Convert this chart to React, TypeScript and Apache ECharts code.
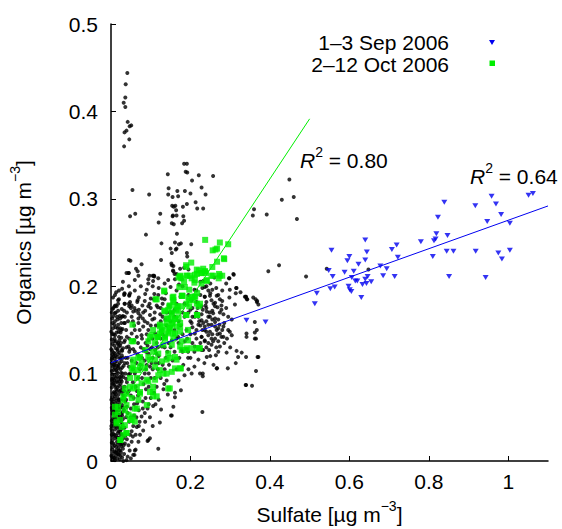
import React, { useEffect, useRef } from "react";
import * as echarts from "echarts";

// ---- data (sulfate, organics) in µg m^-3 ----
const allPoints: number[][] = [
  // high cluster near x≈0.04
  [0.041,0.444],[0.037,0.431],[0.036,0.416],[0.032,0.410],[0.036,0.405],[0.042,0.388],[0.051,0.384],[0.047,0.383],[0.039,0.378],[0.034,0.376],[0.046,0.368],[0.033,0.360],
  // upper cluster
  [0.054,0.310],[0.096,0.305],[0.143,0.328],[0.184,0.340],[0.191,0.340],[0.192,0.330],[0.188,0.331],[0.221,0.327],[0.257,0.326],[0.204,0.321],[0.145,0.312],[0.228,0.313],[0.167,0.309],[0.186,0.309],[0.200,0.306],[0.144,0.305],[0.155,0.302],[0.169,0.303],[0.238,0.305],[0.191,0.294],[0.213,0.296],[0.154,0.292],[0.162,0.292],[0.158,0.291],[0.181,0.291],[0.217,0.289],[0.232,0.289],[0.164,0.287],[0.124,0.283],[0.048,0.280],[0.061,0.283],[0.156,0.281],[0.165,0.281],[0.155,0.280],[0.182,0.280],[0.184,0.275],[0.153,0.272],[0.158,0.271],[0.179,0.272],[0.120,0.273],[0.088,0.259],[0.166,0.260],[0.127,0.249],[0.171,0.248],[0.176,0.249],[0.161,0.250],[0.202,0.248],[0.165,0.243],[0.150,0.243],[0.163,0.242],[0.153,0.238],[0.191,0.238],[0.192,0.234],[0.126,0.230],[0.045,0.230],[0.049,0.229],[0.077,0.225],[0.063,0.220],[0.152,0.226],[0.153,0.224],[0.156,0.218],[0.160,0.214],[0.174,0.220],[0.184,0.221],[0.157,0.217],[0.045,0.215],[0.097,0.212],[0.109,0.211],[0.094,0.208],[0.106,0.206],[0.060,0.207],[0.171,0.202],[0.232,0.206],[0.161,0.208],[0.178,0.208],[0.298,0.209],[0.309,0.213],[0.108,0.212],
  // scattered right
  [0.449,0.322],[0.460,0.302],[0.430,0.299],[0.360,0.288],[0.357,0.281],[0.392,0.282],[0.468,0.277],[0.423,0.224],[0.543,0.220],[0.491,0.211],[0.648,0.219],[0.396,0.217],[0.315,0.198],[0.314,0.192],[0.339,0.188],[0.342,0.185],[0.364,0.185],[0.371,0.179],
  [0.308,0.214],[0.297,0.209],[0.236,0.199],[0.255,0.196],[0.245,0.195],[0.299,0.196],[0.316,0.198],[0.326,0.193],[0.298,0.187],[0.337,0.188],[0.343,0.185],[0.358,0.187],[0.368,0.183],[0.312,0.179],[0.236,0.188],[0.249,0.189],[0.266,0.189],[0.262,0.181],[0.278,0.178],[0.231,0.173],[0.241,0.171],[0.257,0.169],[0.274,0.170],[0.283,0.168],[0.295,0.165],[0.304,0.162],[0.249,0.165],[0.262,0.159],[0.362,0.159],[0.232,0.158],[0.245,0.156],[0.262,0.154],[0.273,0.156],[0.283,0.154],[0.236,0.150],[0.249,0.148],[0.266,0.150],[0.274,0.146],[0.299,0.148],[0.304,0.144],[0.341,0.146],[0.362,0.147],[0.362,0.140],[0.341,0.142],[0.228,0.142],[0.236,0.138],[0.253,0.140],[0.257,0.137],[0.245,0.135],[0.270,0.137],[0.283,0.142],[0.232,0.127],[0.247,0.127],[0.264,0.121],[0.291,0.124],[0.316,0.126],[0.329,0.124],[0.320,0.119],[0.314,0.112],[0.369,0.119],[0.267,0.106],[0.294,0.106],[0.365,0.103],[0.224,0.100],[0.231,0.097],[0.339,0.087],[0.355,0.086],
  // middle band
  [0.044,0.215],[0.069,0.212],[0.094,0.203],[0.108,0.212],[0.119,0.209],[0.144,0.207],[0.048,0.192],[0.033,0.190],[0.086,0.191],[0.109,0.191],[0.119,0.190],[0.018,0.184],[0.045,0.180],[0.050,0.175],[0.033,0.172],[0.014,0.177],[0.066,0.182],[0.056,0.171],[0.079,0.178],[0.094,0.177],[0.010,0.169],[0.023,0.163],[0.035,0.165],[0.069,0.169],[0.081,0.170],[0.098,0.167],[0.069,0.163],[0.109,0.163],[0.203,0.184],[0.218,0.181],[0.236,0.188],[0.253,0.184],[0.274,0.185],[0.228,0.177],[0.262,0.177],[0.278,0.173],[0.211,0.165],[0.228,0.161],[0.245,0.165],[0.262,0.163],[0.203,0.158],[0.220,0.156],[0.236,0.154],[0.253,0.156],[0.270,0.152],[0.211,0.146],[0.228,0.142],[0.245,0.144],[0.262,0.140],[0.278,0.142],[0.236,0.137],[0.253,0.133],[0.274,0.131],[0.211,0.131],[0.228,0.127],[0.220,0.116],[0.241,0.119],[0.194,0.118],
  [0.069,0.158],[0.081,0.154],[0.094,0.150],[0.052,0.146],[0.065,0.142],[0.035,0.138],[0.018,0.135],[0.044,0.131],[0.027,0.127],[0.010,0.123],[0.060,0.150],[0.077,0.144],[0.094,0.138],[0.111,0.146],[0.128,0.150],[0.136,0.142],[0.153,0.138],[0.169,0.142],[0.186,0.137],[0.178,0.127],[0.194,0.125],[0.128,0.131],[0.111,0.127],[0.094,0.123],[0.002,0.116],[0.023,0.118],[0.035,0.112],[0.018,0.108],[0.006,0.110],
  [0.203,0.100],[0.140,0.092],[0.134,0.088],[0.132,0.082],[0.176,0.081],[0.161,0.078],[0.161,0.073],[0.143,0.076],[0.106,0.063],[0.126,0.059],[0.157,0.062],[0.153,0.052],[0.230,0.056],[0.086,0.045],[0.105,0.040],[0.123,0.044],[0.065,0.039],[0.077,0.051],[0.098,0.026],[0.092,0.023],[0.119,0.014],[0.062,0.013],[0.059,0.007],[0.039,0.001],[0.031,0.000],[0.073,0.030],[0.081,0.035],[0.069,0.022],[0.052,0.034],[0.044,0.018],
  [0.039,0.215],[0.067,0.217],[0.105,0.212],[0.157,0.223],[0.165,0.214],[0.195,0.219],[0.034,0.192],[0.046,0.189],[0.018,0.180],[0.035,0.180],[0.052,0.178],[0.006,0.175],[0.003,0.163],[0.340,0.188],[0.367,0.182],[0.367,0.150],[0.365,0.140],[0.371,0.119],[0.340,0.119],[0.266,0.106],[0.231,0.100],[0.340,0.087],[0.151,0.052],[0.094,0.024],[0.060,0.012],[0.056,0.007],
  [0.009,0.177],[0.004,0.174],[0.034,0.191],[0.046,0.190],[0.034,0.180],[0.048,0.182],[0.046,0.177],[0.067,0.184],[0.059,0.175],[0.070,0.173],[0.028,0.165],[0.033,0.158],[0.026,0.150],[0.038,0.150],
  // dense column near x≈0
  [0.004,0.002],[0.010,0.001],[0.016,0.003],[0.022,0.002],[0.028,0.004],[0.012,0.006],[0.020,0.007],[0.006,0.009],[0.025,0.010],[0.033,0.008],
  [0.003,0.013],[0.014,0.012],[0.019,0.015],[0.030,0.014],[0.009,0.018],[0.024,0.019],[0.002,0.021],[0.015,0.022],[0.035,0.020],[0.011,0.026],
  [0.005,0.028],[0.021,0.027],[0.028,0.030],[0.017,0.032],[0.003,0.034],[0.010,0.036],[0.025,0.036],[0.034,0.038],[0.007,0.040],[0.018,0.041],
  [0.013,0.044],[0.002,0.046],[0.022,0.046],[0.030,0.048],[0.008,0.050],[0.016,0.051],[0.038,0.050],[0.004,0.054],[0.026,0.054],[0.012,0.057],
  [0.020,0.058],[0.033,0.058],[0.002,0.061],[0.009,0.063],[0.017,0.064],[0.028,0.064],[0.005,0.068],[0.014,0.069],[0.023,0.070],[0.036,0.068],
  [0.003,0.073],[0.010,0.074],[0.019,0.076],[0.031,0.075],[0.007,0.079],[0.015,0.080],[0.025,0.081],[0.002,0.084],[0.011,0.085],[0.020,0.086],
  [0.034,0.085],[0.006,0.089],[0.016,0.090],[0.027,0.091],[0.003,0.094],[0.012,0.095],[0.022,0.096],[0.038,0.094],[0.008,0.099],[0.017,0.100],
  [0.029,0.100],[0.002,0.103],[0.013,0.104],[0.024,0.105],[0.005,0.108],[0.019,0.110],[0.032,0.109],[0.010,0.113],[0.027,0.114],[0.003,0.118],
  [0.015,0.119],[0.037,0.118],[0.007,0.124],[0.021,0.124],[0.012,0.129],[0.030,0.129],[0.004,0.134],[0.025,0.135],[0.009,0.140],[0.020,0.142],
  [0.040,0.142],[0.014,0.147],[0.005,0.152],[0.029,0.151],[0.018,0.156],[0.010,0.160],[0.035,0.158],
  [0.007,0.004],[0.018,0.008],[0.013,0.016],[0.027,0.024],[0.006,0.031],[0.021,0.038],[0.009,0.044],[0.024,0.050],[0.003,0.058],[0.015,0.060],[0.030,0.071],[0.008,0.071],[0.021,0.080],[0.004,0.088],[0.013,0.091],[0.026,0.097],[0.007,0.104],[0.018,0.106],[0.011,0.120],[0.016,0.134],[0.023,0.012],[0.036,0.029],[0.040,0.062],[0.042,0.078],[0.044,0.099],[0.041,0.112],[0.046,0.125],[0.001,0.128],[0.001,0.070],[0.001,0.040],[0.026,0.158],[0.022,0.166],[0.012,0.170],
  [0.001,0.006],[0.008,0.011],[0.017,0.019],[0.026,0.017],[0.004,0.024],[0.013,0.029],[0.031,0.026],[0.019,0.034],[0.001,0.037],[0.028,0.042],[0.011,0.048],[0.019,0.053],[0.006,0.056],[0.031,0.061],[0.022,0.062],[0.012,0.066],[0.003,0.066],[0.027,0.078],[0.017,0.072],[0.005,0.077],[0.013,0.082],[0.024,0.088],[0.008,0.092],[0.019,0.094],[0.031,0.096],[0.004,0.099],[0.015,0.102],[0.028,0.107],[0.010,0.106],[0.022,0.112],[0.002,0.112],[0.014,0.114],[0.006,0.120],[0.018,0.122],[0.027,0.121],[0.003,0.126],[0.016,0.128],[0.008,0.132],[0.023,0.132],[0.012,0.137],[0.002,0.139],[0.026,0.141],[0.007,0.145],[0.019,0.148],[0.001,0.148],[0.012,0.153],[0.023,0.152],[0.004,0.158],[0.016,0.162],[0.030,0.166],[0.006,0.166],[0.018,0.172],[0.002,0.170],[0.027,0.174],[0.011,0.178],[0.020,0.185],[0.005,0.187],[0.028,0.197],[0.013,0.193],
  [0.009,0.003],[0.015,0.009],[0.024,0.006],[0.005,0.016],[0.020,0.022],[0.032,0.018],[0.009,0.030],[0.024,0.031],[0.015,0.038],[0.004,0.043],[0.026,0.045],[0.014,0.055],[0.029,0.056],[0.007,0.060],[0.021,0.067],[0.010,0.078],[0.033,0.080],[0.017,0.084],[0.006,0.095],[0.025,0.093],[0.014,0.109],[0.030,0.118],[0.009,0.117],[0.020,0.131],[0.033,0.136],[0.010,0.144],[0.024,0.147],[0.015,0.165],
  [0.003,0.005],[0.012,0.010],[0.020,0.012],[0.006,0.020],[0.027,0.020],[0.016,0.027],[0.002,0.030],[0.023,0.034],[0.012,0.040],[0.029,0.038],[0.005,0.048],[0.019,0.047],[0.028,0.052],[0.010,0.054],[0.024,0.061],[0.006,0.064],[0.019,0.070],[0.012,0.076],[0.028,0.084],[0.009,0.087],[0.021,0.091],[0.003,0.092],[0.014,0.097],[0.025,0.101],[0.009,0.110],[0.023,0.117],[0.004,0.122],[0.017,0.126],[0.028,0.126],[0.008,0.137],[0.021,0.138],[0.004,0.145],[0.017,0.152],[0.008,0.156],
  // dense middle region
  [0.050,0.060],[0.057,0.072],[0.062,0.085],[0.068,0.095],[0.073,0.105],[0.055,0.090],[0.048,0.100],[0.064,0.112],[0.078,0.118],[0.085,0.100],[0.090,0.110],[0.082,0.088],[0.075,0.078],[0.066,0.066],[0.058,0.052],[0.070,0.058],[0.080,0.068],[0.095,0.085],[0.100,0.095],[0.105,0.105],[0.112,0.112],[0.120,0.120],[0.098,0.128],[0.087,0.135],[0.104,0.140],[0.115,0.135],[0.125,0.140],[0.135,0.130],[0.142,0.125],[0.150,0.130],[0.160,0.125],[0.170,0.135],[0.180,0.145],[0.190,0.150],[0.200,0.160],[0.175,0.155],[0.185,0.165],[0.195,0.170],[0.205,0.175],[0.215,0.170],[0.160,0.165],[0.150,0.160],[0.140,0.170],[0.130,0.165],[0.120,0.155],[0.145,0.178],[0.165,0.180],[0.175,0.188],[0.185,0.180],[0.195,0.190],[0.215,0.195],[0.225,0.190],[0.135,0.185],[0.125,0.175],[0.110,0.170],[0.100,0.155],[0.090,0.145],[0.075,0.130],[0.060,0.125],[0.052,0.115],[0.045,0.108],[0.040,0.090],[0.045,0.080],[0.038,0.070],[0.050,0.075],[0.060,0.100],[0.070,0.120],[0.085,0.115],[0.095,0.100],[0.110,0.095],[0.118,0.105],[0.125,0.095],[0.130,0.110],[0.138,0.118],[0.146,0.110],[0.155,0.115],[0.165,0.105],[0.172,0.118],[0.182,0.110],[0.190,0.128],[0.205,0.135],[0.215,0.150],[0.222,0.160],[0.240,0.175],[0.200,0.145],[0.210,0.125],[0.087,0.072],[0.095,0.065],[0.108,0.078],[0.115,0.085],[0.120,0.070],[0.098,0.050],[0.085,0.055],[0.072,0.045],[0.064,0.050],[0.056,0.040],[0.048,0.030],[0.052,0.022],[0.040,0.025],[0.046,0.045],[0.042,0.055],
  [0.060,0.195],[0.075,0.200],[0.090,0.196],[0.105,0.200],[0.120,0.198],[0.135,0.203],[0.150,0.199],[0.165,0.195],[0.180,0.200],[0.210,0.196],[0.230,0.198],[0.250,0.203],[0.265,0.198],[0.280,0.195],[0.290,0.203],[0.070,0.187],[0.085,0.183],[0.100,0.186],[0.115,0.178],[0.130,0.180],[0.160,0.173],[0.180,0.170],[0.200,0.173],[0.215,0.182],[0.240,0.182],[0.255,0.172],[0.270,0.162],[0.285,0.158],[0.295,0.150],[0.285,0.135],[0.300,0.130],[0.265,0.130],[0.250,0.120],[0.235,0.112],[0.258,0.110],[0.210,0.108],[0.195,0.105],[0.185,0.098],[0.170,0.092],[0.180,0.125],[0.200,0.118],[0.215,0.140],[0.230,0.150],[0.240,0.160],[0.255,0.145],[0.220,0.165],[0.205,0.153],[0.192,0.140],[0.165,0.140],[0.145,0.135],[0.160,0.150],[0.170,0.160],[0.155,0.170],[0.140,0.155],[0.130,0.145],[0.118,0.130],[0.105,0.118],[0.098,0.108],[0.088,0.125],[0.078,0.140],[0.068,0.135],[0.058,0.138],[0.048,0.128],[0.042,0.118],[0.055,0.105],[0.065,0.080],[0.078,0.095],[0.088,0.082],[0.100,0.072],[0.112,0.065],[0.092,0.060],[0.080,0.060],[0.068,0.075],[0.058,0.065],[0.050,0.050],[0.062,0.030],[0.055,0.028],[0.047,0.012],[0.042,0.005],[0.050,0.003],[0.070,0.040],[0.036,0.100],[0.039,0.130],[0.043,0.160],[0.055,0.160],[0.080,0.163],[0.092,0.158],[0.100,0.175],[0.125,0.160],[0.045,0.200],[0.030,0.205],[0.020,0.195],[0.010,0.190],[0.040,0.170],
  [0.052,0.165],[0.063,0.172],[0.074,0.166],[0.086,0.172],[0.097,0.180],[0.108,0.185],[0.118,0.176],[0.128,0.186],[0.138,0.192],[0.058,0.155],[0.072,0.150],[0.085,0.160],[0.104,0.162],[0.113,0.155],[0.124,0.168],[0.137,0.162],[0.148,0.170],[0.056,0.128],[0.067,0.122],[0.082,0.128],[0.092,0.132],[0.103,0.130],[0.114,0.123],[0.046,0.140],[0.074,0.110],[0.088,0.105],[0.102,0.112],[0.120,0.112],[0.135,0.105],
  [0.205,0.165],[0.218,0.175],[0.228,0.168],[0.238,0.178],[0.248,0.170],[0.258,0.180],[0.268,0.176],[0.280,0.183],[0.290,0.175],[0.225,0.155],[0.240,0.148],[0.255,0.162],[0.268,0.145],[0.280,0.150],[0.292,0.140],[0.225,0.135],[0.240,0.130],[0.270,0.125],[0.250,0.192],[0.240,0.200],[0.260,0.210],[0.270,0.190],[0.225,0.205],
];

const sepPoints: number[][] = [
  [1.062,0.306],[1.051,0.304],[0.958,0.303],[0.969,0.294],[0.917,0.292],[0.839,0.296],[0.982,0.282],[0.947,0.274],[1.004,0.272],[0.823,0.279],[0.819,0.260],[0.847,0.258],[0.813,0.252],[0.817,0.254],[0.780,0.251],[0.719,0.247],[0.707,0.242],[0.722,0.233],[0.810,0.234],[0.845,0.240],[0.862,0.240],[0.918,0.240],[0.975,0.238],[1.004,0.241],[0.984,0.231],[0.851,0.211],[0.943,0.210],
  [0.555,0.241],[0.644,0.239],[0.640,0.253],[0.600,0.234],[0.595,0.229],[0.640,0.230],[0.623,0.225],[0.678,0.223],[0.694,0.220],[0.685,0.212],[0.714,0.211],[0.548,0.218],[0.588,0.216],[0.611,0.217],[0.558,0.211],[0.606,0.210],[0.615,0.206],[0.620,0.206],[0.646,0.211],[0.640,0.208],[0.655,0.205],[0.643,0.203],[0.633,0.202],[0.598,0.200],[0.601,0.196],[0.605,0.194],[0.563,0.199],[0.552,0.197],[0.518,0.192],[0.513,0.180],[0.630,0.187],
  [0.341,0.161],[0.389,0.159],
];

const octPoints: number[][] = [
  [0.237,0.253],[0.256,0.241],[0.267,0.243],[0.274,0.250],[0.295,0.248],[0.284,0.232],[0.263,0.242],[0.285,0.231],[0.267,0.228],[0.189,0.224],[0.202,0.227],[0.255,0.222],[0.221,0.218],[0.232,0.220],[0.227,0.215],[0.216,0.214],[0.237,0.217],[0.257,0.212],[0.272,0.214],[0.280,0.212],[0.271,0.209],[0.170,0.210],[0.177,0.209],[0.192,0.212],[0.199,0.212],[0.184,0.205],[0.211,0.207],[0.241,0.206],[0.172,0.199],[0.197,0.196],[0.134,0.195],[0.115,0.185],[0.155,0.187],[0.179,0.189],[0.204,0.188],[0.212,0.188],[0.197,0.184],[0.207,0.184],[0.157,0.182],[0.147,0.177],[0.164,0.177],[0.178,0.177],[0.197,0.177],[0.221,0.177],[0.134,0.172],[0.153,0.170],[0.165,0.173],[0.189,0.167],[0.217,0.167],[0.140,0.163],[0.150,0.163],[0.161,0.162],[0.170,0.164],[0.155,0.158],[0.174,0.158],[0.137,0.154],[0.148,0.152],[0.165,0.154],[0.123,0.154],[0.106,0.150],[0.128,0.148],[0.144,0.146],[0.157,0.146],[0.174,0.148],[0.119,0.142],[0.136,0.142],[0.098,0.142],
  [0.174,0.212],[0.190,0.212],[0.211,0.213],[0.228,0.215],[0.236,0.217],[0.253,0.212],[0.274,0.212],[0.210,0.204],[0.186,0.199],[0.228,0.203],[0.241,0.207],[0.157,0.188],[0.178,0.189],[0.210,0.188],[0.157,0.184],[0.190,0.180],[0.216,0.180],[0.148,0.178],[0.168,0.177],[0.136,0.171],[0.153,0.169],[0.169,0.171],[0.190,0.167],[0.216,0.167],[0.144,0.163],[0.161,0.163],[0.123,0.156],[0.140,0.158],[0.153,0.156],[0.174,0.154],[0.194,0.150],[0.128,0.150],[0.144,0.148],[0.161,0.146],[0.102,0.144],[0.119,0.142],[0.136,0.140],[0.157,0.140],[0.178,0.137],[0.194,0.138],[0.216,0.129],[0.094,0.137],[0.111,0.135],[0.132,0.133],[0.153,0.133],[0.174,0.131],[0.190,0.127],[0.086,0.127],[0.106,0.125],[0.119,0.123],[0.144,0.123],[0.161,0.119],[0.094,0.119],[0.069,0.118],[0.056,0.110],[0.077,0.112],[0.111,0.116],[0.128,0.114],[0.148,0.118],[0.052,0.137],
  [0.134,0.194],[0.112,0.185],[0.144,0.173],[0.180,0.189],[0.195,0.187],[0.217,0.192],[0.224,0.180],[0.239,0.215],[0.216,0.219],[0.190,0.222],[0.174,0.211],[0.203,0.209],[0.056,0.137],[0.054,0.156],[0.115,0.142],[0.123,0.146],[0.148,0.152],[0.221,0.129],[0.176,0.106],[0.165,0.116],[0.178,0.127],[0.190,0.129],[0.224,0.129],[0.203,0.129],[0.148,0.083],[0.115,0.074],[0.090,0.064],[0.065,0.060],[0.056,0.051],[0.048,0.047],[0.035,0.058],[0.018,0.062],[0.010,0.053],[0.014,0.043],[0.027,0.039],[0.039,0.032],[0.024,0.024],[0.060,0.045],[0.073,0.077],[0.106,0.079],[0.140,0.100],[0.090,0.093],[0.056,0.104],[0.073,0.108],[0.123,0.104],[0.140,0.116],[0.098,0.116],[0.073,0.119],[0.056,0.116],[0.039,0.077],[0.031,0.070],[0.048,0.085],[0.065,0.085],[0.106,0.085],
  [0.144,0.083],[0.052,0.106],[0.069,0.104],[0.086,0.106],[0.111,0.108],[0.132,0.100],[0.153,0.102],[0.161,0.106],[0.174,0.106],[0.048,0.095],[0.065,0.095],[0.077,0.089],[0.094,0.091],[0.111,0.093],[0.119,0.098],[0.035,0.083],[0.056,0.083],[0.073,0.079],[0.098,0.079],[0.106,0.074],[0.031,0.074],[0.052,0.072],[0.069,0.070],[0.039,0.064],[0.060,0.060],[0.018,0.056],[0.044,0.053],[0.010,0.062],[0.023,0.047],[0.052,0.047],[0.014,0.045],[0.035,0.041],[0.031,0.030],[0.039,0.032],[0.023,0.024],
];

// linear fits: [slope, intercept, xStart, xEnd]
const sepFit = [0.163, 0.1125, 0, 1.1];
const octFit = [0.687, 0.048, 0.02, 0.5];
const sepR2 = "0.64";
const octR2 = "0.80";
const legendNames = ["1\u20133 Sep 2006", "2\u201312 Oct 2006"];
const xTicks = [0, 0.2, 0.4, 0.6, 0.8, 1];

const BLUE = "#0000f0";
const GREEN = "#00ee00";
const FONT = "Liberation Sans";

function fitLine(f: number[]) {
  const [m, b, x0, x1] = f;
  return [[x0, b + m * x0], [x1, b + m * x1]];
}

export default function App() {
  const ref = useRef<HTMLDivElement>(null);
  useEffect(() => {
    const chart = echarts.init(ref.current!, null, { renderer: "svg" });
    const nameRich = {
      n: { fontSize: 21, lineHeight: 26, verticalAlign: "bottom", fontFamily: FONT, color: "#000" },
      sup: { fontSize: 14, lineHeight: 14, verticalAlign: "top", fontFamily: FONT, color: "#000" },
    };
    const r2Rich = {
      r: { fontSize: 21, lineHeight: 26, verticalAlign: "bottom", fontStyle: "italic", fontFamily: FONT, fill: "#000" },
      s: { fontSize: 14, lineHeight: 14, verticalAlign: "top", fontFamily: FONT, fill: "#000" },
      n: { fontSize: 21, lineHeight: 26, verticalAlign: "bottom", fontFamily: FONT, fill: "#000" },
    };
    chart.setOption({
      animation: false,
      grid: { left: 111, right: 14, top: 24, bottom: 68, containLabel: false, outerBoundsMode: "none" },
      xAxis: {
        type: "value", min: 0, max: 1.1, interval: 0.2,
        name: "{n|Sulfate [\u00b5g m}{sup|\u22123}{n|]}",
        nameLocation: "middle", nameGap: 38,
        nameTextStyle: { rich: nameRich },
        axisLine: { lineStyle: { color: "#000", width: 1.5 } },
        axisTick: { inside: true, length: 5, customValues: xTicks, lineStyle: { color: "#000" } },
        axisLabel: { customValues: xTicks, color: "#000", fontSize: 21, fontFamily: FONT, margin: 10 },
        splitLine: { show: false },
      },
      yAxis: {
        type: "value", min: 0, max: 0.5, interval: 0.1,
        name: "{n|Organics [\u00b5g m}{sup|\u22123}{n|]}",
        nameLocation: "middle", nameGap: 77,
        nameTextStyle: { rich: nameRich },
        axisLine: { show: true, lineStyle: { color: "#000", width: 1.5 } },
        axisTick: { show: true, inside: true, length: 5, lineStyle: { color: "#000" } },
        axisLabel: { color: "#000", fontSize: 21, fontFamily: FONT, margin: 13 },
        splitLine: { show: false },
      },
      series: [
        { type: "scatter", data: allPoints, symbol: "circle", symbolSize: 4, itemStyle: { color: "#000" }, z: 1 },
        { type: "scatter", data: sepPoints, symbol: "triangle", symbolRotate: 180, symbolSize: [6, 5], itemStyle: { color: BLUE }, z: 2 },
        { type: "scatter", data: octPoints, symbol: "rect", symbolSize: 6, itemStyle: { color: GREEN }, z: 3 },
        { type: "line", data: fitLine(sepFit), showSymbol: false, symbol: "none", lineStyle: { color: BLUE, width: 1 }, z: 4 },
        { type: "line", data: fitLine(octFit), showSymbol: false, symbol: "none", lineStyle: { color: GREEN, width: 1 }, z: 4 },
      ],
      graphic: [
        { type: "text", x: 449, y: 42.5, style: { text: legendNames[0], align: "right", verticalAlign: "middle", fontSize: 21, fontFamily: FONT, fill: "#000" } },
        { type: "text", x: 449, y: 64, style: { text: legendNames[1], align: "right", verticalAlign: "middle", fontSize: 21, fontFamily: FONT, fill: "#000" } },
        { type: "polygon", shape: { points: [[489, 40], [495, 40], [492, 45]] }, style: { fill: BLUE } },
        { type: "rect", shape: { x: 489.5, y: 60.5, width: 5.5, height: 5.5 }, style: { fill: GREEN } },
        { type: "text", x: 300, y: 144.5, style: { text: "{r|R}{s|2}{n| = " + octR2 + "}", rich: r2Rich } },
        { type: "text", x: 470, y: 161, style: { text: "{r|R}{s|2}{n| = " + sepR2 + "}", rich: r2Rich } },
      ],
    });
    return () => chart.dispose();
  }, []);
  return <div ref={ref} style={{ position: "fixed", left: 0, top: 0, width: 562, height: 529, background: "#fff" }} />;
}
